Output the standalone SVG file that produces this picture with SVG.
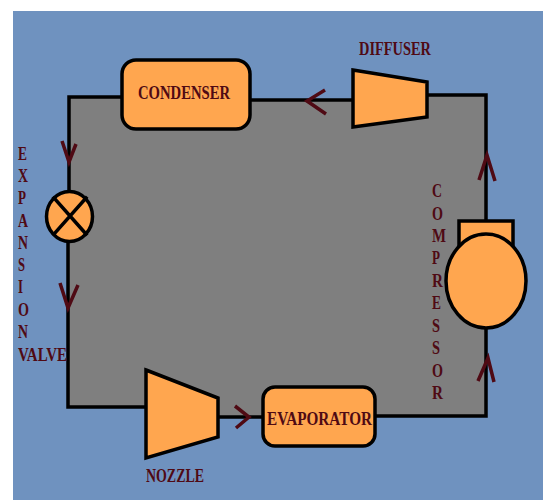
<svg xmlns="http://www.w3.org/2000/svg" width="543" height="500" viewBox="0 0 543 500">
<style>
.s{fill:#FFA64F;stroke:#000;stroke-width:3.5;stroke-linejoin:miter}
.l{fill:none;stroke:#000;stroke-width:3.5;stroke-linecap:square}
.a{fill:none;stroke:#4F0A14;stroke-width:3.5;stroke-linejoin:miter}
text{font-family:"Liberation Serif","Times New Roman",serif;font-weight:bold;font-size:19px;fill:#4F0A14}
</style>
<rect x="0" y="0" width="543" height="500" fill="#fff"/>
<rect x="13" y="11" width="530" height="489" fill="#6F92BF"/>
<polygon points="69,97 122,97 250,100 353,100 427,95 486,95 486,416 376,416 263,417 218,417 146,407 68,407" fill="#7F7F7F"/>
<g id="connectors">
<path class="l" d="M121,97H69V192"/>
<path class="l" d="M252,100H352"/>
<path class="l" d="M428,95H486V221"/>
<path class="l" d="M486,328V416H376"/>
<path class="l" d="M219,417H263"/>
<path class="l" d="M146,407H68V241"/>
<path class="a" d="M62,141L69,162L76,144"/>
<path class="a" d="M60,283L68,308L78,285"/>
<path class="a" d="M325,90L307,101L326,114"/>
<path class="a" d="M479,180L487,155L495,181"/>
<path class="a" d="M478,381L488,358L494,382"/>
<path class="a" d="M235,406L249,417L236,428"/>
</g>
<g id="condenser">
<rect class="s" x="122" y="60" width="128" height="69" rx="14"/>
<text x="138" y="99" textLength="92" lengthAdjust="spacingAndGlyphs">CONDENSER</text>
</g>
<g id="diffuser">
<polygon class="s" points="353,70 427,82 427,117 353,127"/>
<text x="359" y="55" textLength="72" lengthAdjust="spacingAndGlyphs">DIFFUSER</text>
</g>
<g id="expansion-valve">
<ellipse class="s" cx="69.5" cy="216.5" rx="23" ry="25"/>
<path class="l" d="M54,198L86,234M86,198L54,234" stroke-linecap="butt"/>
<text x="18" y="160" textLength="9" lengthAdjust="spacingAndGlyphs">E</text>
<text x="18" y="182" textLength="10" lengthAdjust="spacingAndGlyphs">X</text>
<text x="18" y="204" textLength="8" lengthAdjust="spacingAndGlyphs">P</text>
<text x="18" y="227" textLength="10" lengthAdjust="spacingAndGlyphs">A</text>
<text x="18" y="249" textLength="10" lengthAdjust="spacingAndGlyphs">N</text>
<text x="18" y="271" textLength="7" lengthAdjust="spacingAndGlyphs">S</text>
<text x="18" y="293" textLength="5" lengthAdjust="spacingAndGlyphs">I</text>
<text x="18" y="316" textLength="11" lengthAdjust="spacingAndGlyphs">O</text>
<text x="18" y="338" textLength="10" lengthAdjust="spacingAndGlyphs">N</text>
<text x="18" y="361" textLength="49" lengthAdjust="spacingAndGlyphs">VALVE</text>
</g>
<g id="compressor">
<rect class="s" x="459" y="221" width="54" height="40"/>
<ellipse class="s" cx="486" cy="281" rx="40" ry="47"/>
<text x="432" y="197" textLength="10" lengthAdjust="spacingAndGlyphs">C</text>
<text x="432" y="220" textLength="11" lengthAdjust="spacingAndGlyphs">O</text>
<text x="432" y="242" textLength="14" lengthAdjust="spacingAndGlyphs">M</text>
<text x="432" y="264" textLength="8" lengthAdjust="spacingAndGlyphs">P</text>
<text x="432" y="287" textLength="11" lengthAdjust="spacingAndGlyphs">R</text>
<text x="432" y="309" textLength="9" lengthAdjust="spacingAndGlyphs">E</text>
<text x="432" y="332" textLength="8" lengthAdjust="spacingAndGlyphs">S</text>
<text x="432" y="354" textLength="8" lengthAdjust="spacingAndGlyphs">S</text>
<text x="432" y="377" textLength="11" lengthAdjust="spacingAndGlyphs">O</text>
<text x="432" y="399" textLength="11" lengthAdjust="spacingAndGlyphs">R</text>
</g>
<g id="evaporator">
<rect class="s" x="263" y="387" width="112" height="59" rx="12"/>
<text x="267" y="425" textLength="105" lengthAdjust="spacingAndGlyphs">EVAPORATOR</text>
</g>
<g id="nozzle">
<polygon class="s" points="146,370 218,398 218,437 146,458"/>
<text x="146" y="482" textLength="58" lengthAdjust="spacingAndGlyphs">NOZZLE</text>
</g>
</svg>
